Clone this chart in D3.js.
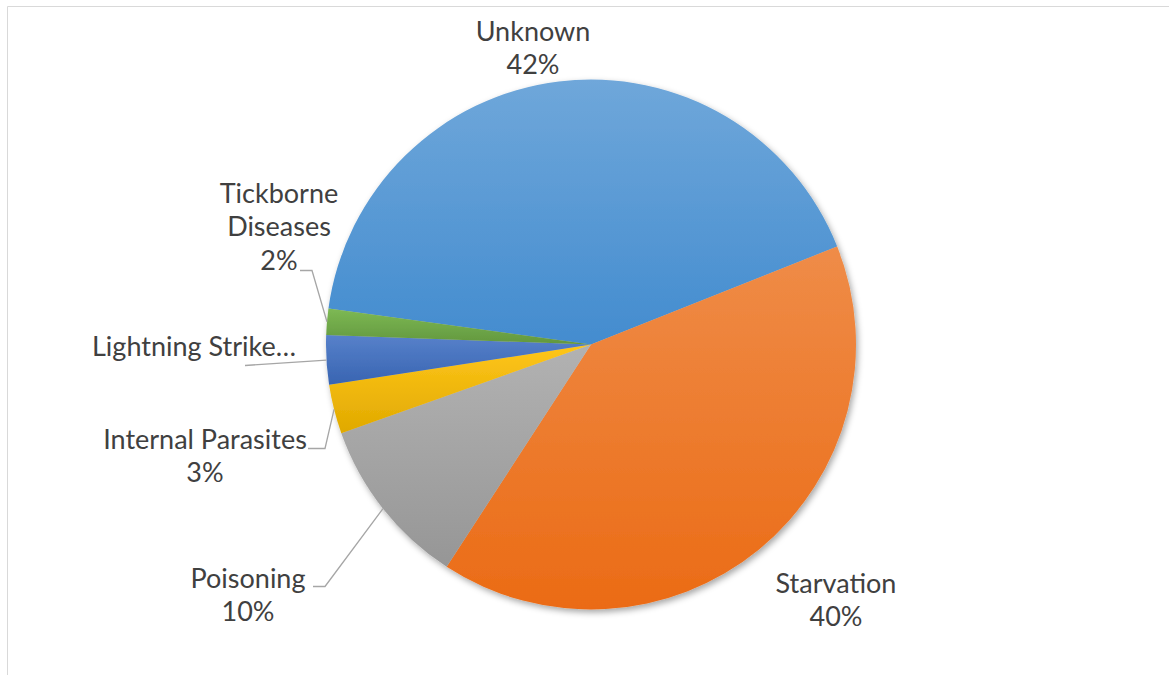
<!DOCTYPE html>
<html>
<head>
<meta charset="utf-8">
<script src="https://cdn.jsdelivr.net/npm/d3@7"></script>
<style>
  body { margin: 0; background: #fff; }
  svg text { font-family: Lato, "Open Sans", sans-serif; font-size: 27px; fill: #404040; }
</style>
</head>
<body>
<div id="chart"></div>
<script>
// data (share of deaths, %)
var categories = ["Unknown", "Starvation", "Poisoning", "Internal Parasites", "Lightning Strike", "Tickborne Diseases"];
var values = [41.8, 40.2, 10.4, 3.0, 3.0, 1.6];
var colors = ["#5B9BD5", "#ED7D31", "#A5A5A5", "#FFC000", "#4472C4", "#70AD47"];

// label layout: text lines, anchor offset from pie centre, leader elbow (null = no leader)
var labelLines = [["Unknown", "%"], ["Starvation", "%"], ["Poisoning", "%"], ["Internal Parasites", "%"], ["Lightning Strike\u2026"], ["Tickborne", "Diseases", "%"]];
var labelOffset = [[-58, -304], [245, 248], [-343, 243], [-386, 104], [-397, 11], [-312, -142]];
var leaderStart = [null, null, [-278, 242], [-283, 104], [-346, 21], [-291, -74]];
var leaderElbow = [null, null, [-266, 242], [-266, 104], null, [-279, -74]];

var width = 1169, height = 675;
var cx = 591, cy = 344.5, radius = 265;
var lineH = 33.5;
var startDeg = -82.2;

var svg = d3.select("#chart").append("svg")
    .attr("width", width)
    .attr("height", height);

// chart area border (only top/left visible in the crop)
svg.append("path")
    .attr("d", "M7.5," + height + "V6.5H" + width)
    .attr("fill", "none")
    .attr("stroke", "#D9D9D9")
    .attr("stroke-width", 1);

var defs = svg.append("defs");
var shadow = defs.append("filter").attr("id", "shadow")
    .attr("x", "-10%").attr("y", "-10%").attr("width", "125%").attr("height", "125%");
shadow.append("feDropShadow")
    .attr("dx", 2).attr("dy", 3).attr("stdDeviation", 3)
    .attr("flood-color", "#000").attr("flood-opacity", 0.35);

// vertical gradient per slice, lighter on top, darker (same saturation) below
colors.forEach(function (c, i) {
    var top = d3.hsl(c), bot = d3.hsl(c);
    top.l += 0.05;
    bot.l -= 0.06;
    var grad = defs.append("linearGradient").attr("id", "grad" + i)
        .attr("x1", 0).attr("y1", 0).attr("x2", 0).attr("y2", 1);
    grad.append("stop").attr("offset", "0%").attr("stop-color", top.formatHex());
    grad.append("stop").attr("offset", "100%").attr("stop-color", bot.formatHex());
});

var total = d3.sum(values);
var data = categories.map(function (c, i) { return { name: c, value: values[i], i: i }; });

var pie = d3.pie()
    .sort(null)
    .value(d => d.value)
    .startAngle(startDeg * Math.PI / 180)
    .endAngle(startDeg * Math.PI / 180 + 2 * Math.PI);

var arc = d3.arc().innerRadius(0).outerRadius(radius);

var g = svg.append("g").attr("transform", "translate(" + cx + "," + cy + ")");

g.append("g").attr("filter", "url(#shadow)")
    .selectAll("path")
    .data(pie(data))
    .join("path")
    .attr("d", arc)
    .attr("fill", d => "url(#grad" + d.data.i + ")");

var fmt = d3.format(".0%");

// leader lines: from label to the edge of the slice at its mid angle
g.selectAll(".leader")
    .data(pie(data).filter(d => leaderStart[d.data.i]))
    .join("polyline")
    .attr("class", "leader")
    .attr("fill", "none")
    .attr("stroke", "#A6A6A6")
    .attr("stroke-width", 1.3)
    .attr("points", function (d) {
        var a = (d.startAngle + d.endAngle) / 2;
        var edge = [Math.sin(a) * radius, -Math.cos(a) * radius];
        var pts = [leaderStart[d.data.i]];
        if (leaderElbow[d.data.i]) pts.push(leaderElbow[d.data.i]);
        pts.push(edge);
        return pts.map(p => p.join(",")).join(" ");
    });

var labels = g.selectAll(".label")
    .data(pie(data))
    .join("text")
    .attr("class", "label")
    .attr("text-anchor", "middle")
    .attr("transform", d => "translate(" + labelOffset[d.data.i] + ")");

labels.selectAll("tspan")
    .data(d => labelLines[d.data.i].map(t => t == "%" ? fmt(d.data.value / total) : t))
    .join("tspan")
    .attr("x", 0)
    .attr("y", (t, j) => j * lineH)
    .text(t => t);
</script>
</body>
</html>
